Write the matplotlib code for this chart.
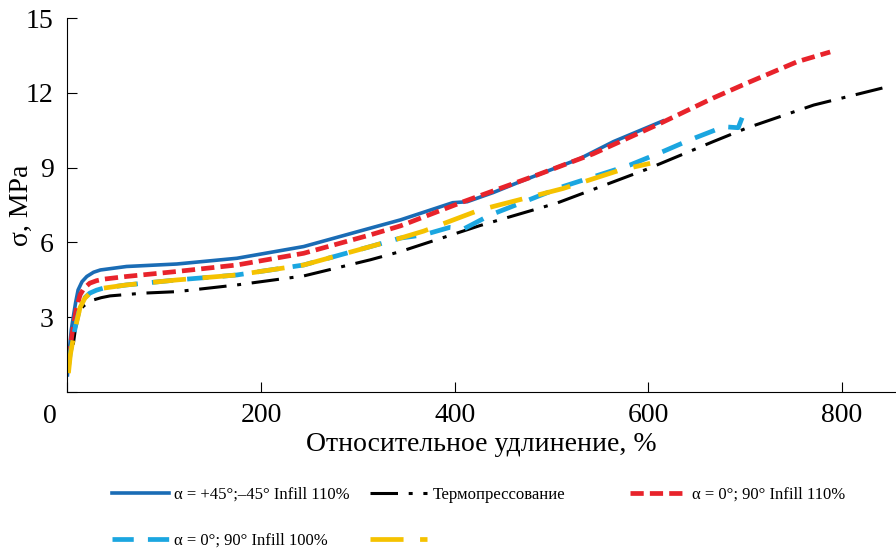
import matplotlib.pyplot as plt

plt.rcParams["font.family"] = ["Liberation Serif", "DejaVu Serif"]

# strain, % and stress, MPa
x_blue = [0, 2, 4, 6, 8.5, 11, 15, 20, 27, 34, 61, 113, 175, 244, 313, 344, 398, 413, 440, 468, 530, 564, 615]
y_blue = [0.68, 1.7, 2.5, 3.0, 3.6, 4.09, 4.42, 4.63, 4.8, 4.89, 5.03, 5.13, 5.36, 5.83, 6.57, 6.9, 7.59, 7.63, 8.0, 8.44, 9.37, 10.04, 10.87]

x_red = [1, 2.6, 4.3, 6, 9, 13, 17, 23, 30, 37, 61, 113, 175, 244, 313, 344, 409, 485, 543, 609, 667, 702, 754, 788]
y_red = [1.3, 1.68, 2.2, 2.62, 3.3, 3.89, 4.15, 4.36, 4.46, 4.52, 4.63, 4.83, 5.09, 5.56, 6.3, 6.66, 7.63, 8.7, 9.55, 10.71, 11.79, 12.39, 13.25, 13.64]

x_black = [6, 9.5, 13, 16, 21, 27, 35, 44, 78, 113, 175, 244, 313, 344, 426, 506, 599, 667, 702, 771, 850]
y_black = [1.9, 2.89, 3.2, 3.42, 3.58, 3.69, 3.78, 3.85, 3.96, 4.02, 4.29, 4.65, 5.3, 5.63, 6.67, 7.58, 8.94, 10.04, 10.59, 11.51, 12.27]

x_cyan = [1, 3, 6, 9.5, 13, 18, 23, 30, 37, 61, 113, 175, 244, 313, 344, 368, 395, 410, 437, 512, 581, 615, 643, 678, 693, 697]
y_cyan = [1.0, 1.6, 2.2, 2.85, 3.42, 3.78, 3.96, 4.08, 4.16, 4.29, 4.49, 4.69, 5.09, 5.83, 6.17, 6.3, 6.6, 6.55, 7.1, 8.24, 9.1, 9.64, 10.11, 10.64, 10.6, 11.0]

x_yellow = [1, 3, 6, 9.5, 13, 18, 23, 30, 37, 61, 113, 175, 244, 313, 344, 368, 426, 512, 571, 602]
y_yellow = [0.75, 1.5, 2.15, 2.8, 3.38, 3.76, 3.95, 4.07, 4.16, 4.29, 4.49, 4.69, 5.09, 5.83, 6.17, 6.45, 7.3, 8.16, 8.9, 9.17]

labels = ["α = +45°;–45° Infill 110%", "Термопрессование", "α = 0°; 90° Infill 110%",
          "α = 0°; 90° Infill 100%", ""]

fig = plt.figure(figsize=(8.96, 5.48), dpi=100)
ax = fig.add_axes([0.0753, 0.285, 0.9247, 0.682])

h1, = ax.plot(x_blue, y_blue, color="#1a6cb5", lw=2.6)
h2, = ax.plot(x_black, y_black, color="black", lw=2.2, dashes=(9, 3.5, 1.3, 3.5))
h3, = ax.plot(x_red, y_red, color="#e8232b", lw=3.4, dashes=(2.8, 1.3))
h4, = ax.plot(x_cyan, y_cyan, color="#1ba6e0", lw=3.4, dashes=(4.5, 3))
h5, = ax.plot(x_yellow, y_yellow, color="#f5c200", lw=3.4, dashes=(7, 3.5))

ax.set_xlim(0, 856)
ax.set_ylim(0, 15)
ax.set_xticks([0, 200, 400, 600, 800], ["", "200", "400", "600", "800"])
ax.set_yticks([0, 3, 6, 9, 12, 15], ["", "3", "6", "9", "12", "15"])
ax.text(-0.021, -0.065, "0", transform=ax.transAxes, fontsize=20, ha="center", va="center")
ax.spines["top"].set_visible(False)
ax.spines["right"].set_visible(False)
ax.tick_params(labelsize=20, direction="in", length=7)
ax.tick_params(axis="x", pad=8)
ax.tick_params(axis="y", pad=10)
ax.set_xlabel("Относительное удлинение, %", fontsize=20, labelpad=3)
ax.set_ylabel("σ, MPa", fontsize=20)
ax.yaxis.set_label_coords(-0.041, 0.5)

# legend entries laid out on a 3-column grid
spots = [(0.125, 0.097), (0.413, 0.097), (0.703, 0.097), (0.125, 0.013), (0.413, 0.013)]
for h, lab, (lx, ly) in zip([h1, h2, h3, h4, h5], labels, spots):
    fig.legend([h], [lab], loc="center left", bbox_to_anchor=(lx, ly), frameon=False,
               fontsize=12, handlelength=3.4, handletextpad=0.35, borderpad=0, borderaxespad=0)

plt.savefig("out.png", dpi=100)
